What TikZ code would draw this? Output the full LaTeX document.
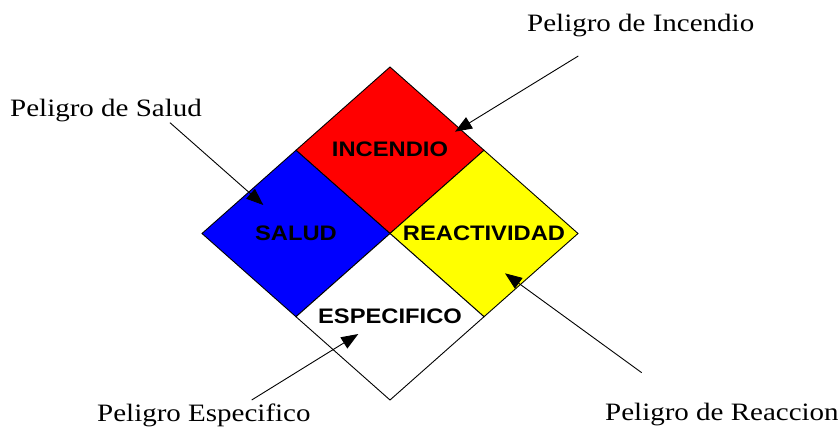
\documentclass[tikz,border=0pt]{standalone}
\usepackage{fontspec}
\usetikzlibrary{arrows.meta}
\newfontfamily\lblfont[FakeStretch=1.16]{Liberation Serif}
\newfontfamily\boxfont[FakeStretch=1.13]{Liberation Sans}
\begin{document}
\begin{tikzpicture}[x=1pt,y=-1pt,
  quad/.style={draw=black,line width=0.9pt,line join=miter},
  boxtext/.style={inner sep=0pt,font=\boxfont\bfseries\fontsize{21}{24}\selectfont},
  lbl/.style={inner sep=0pt,anchor=base west,font=\lblfont\fontsize{25}{30}\selectfont},
  pointer/.style={line width=0.9pt,-{Triangle[length=17pt,width=13pt]}}]
\useasboundingbox (0,0) rectangle (838,428);
\fill[white] (0,0) rectangle (838,428);
% diamond corners
\coordinate (T) at (390,67);
\coordinate (L) at (202,233.5);
\coordinate (R) at (578,233.5);
\coordinate (B) at (390,400);
\coordinate (C) at (390,233.5);
\coordinate (TL) at (296,150.25);
\coordinate (TR) at (484,150.25);
\coordinate (BL) at (296,316.75);
\coordinate (BR) at (484,316.75);
% quadrants
\draw[quad,fill={rgb,255:red,255;green,0;blue,0}] (T) -- (TR) -- (C) -- (TL) -- cycle;
\draw[quad,fill={rgb,255:red,0;green,0;blue,255}] (TL) -- (C) -- (BL) -- (L) -- cycle;
\draw[quad,fill={rgb,255:red,255;green,255;blue,0}] (TR) -- (R) -- (BR) -- (C) -- cycle;
\draw[quad,fill=white] (C) -- (BR) -- (B) -- (BL) -- cycle;
% quadrant texts
\node[boxtext] (incendio) at (390,149) {INCENDIO};
\node[boxtext] (salud) at (296,233.5) {SALUD};
\node[boxtext] (reactividad) at (484,233.5) {REACTIVIDAD};
\node[boxtext] (especifico) at (390,316.7) {ESPECIFICO};
% labels
\node[lbl] (lsalud) at (10,116) {Peligro de Salud};
\node[lbl] (lincendio) at (527,32) {Peligro de Incendio};
\node[lbl] (lespec) at (97,421.5) {Peligro Especifico};
\node[lbl] (lreac) at (605,420) {Peligro de Reaccion};
% arrow ends
\coordinate (s0) at (170,122.7);
\coordinate (s1) at (263.3,205);
\coordinate (i0) at (578.3,56);
\coordinate (i1) at (455,131.7);
\coordinate (e0) at (251.7,400);
\coordinate (e1) at (358.3,334);
\coordinate (r0) at (641.7,372.7);
\coordinate (r1) at (505,273.3);
\draw[pointer] (s0) -- (s1);
\draw[pointer] (i0) -- (i1);
\draw[pointer] (e0) -- (e1);
\draw[pointer] (r0) -- (r1);
\end{tikzpicture}
\end{document}
